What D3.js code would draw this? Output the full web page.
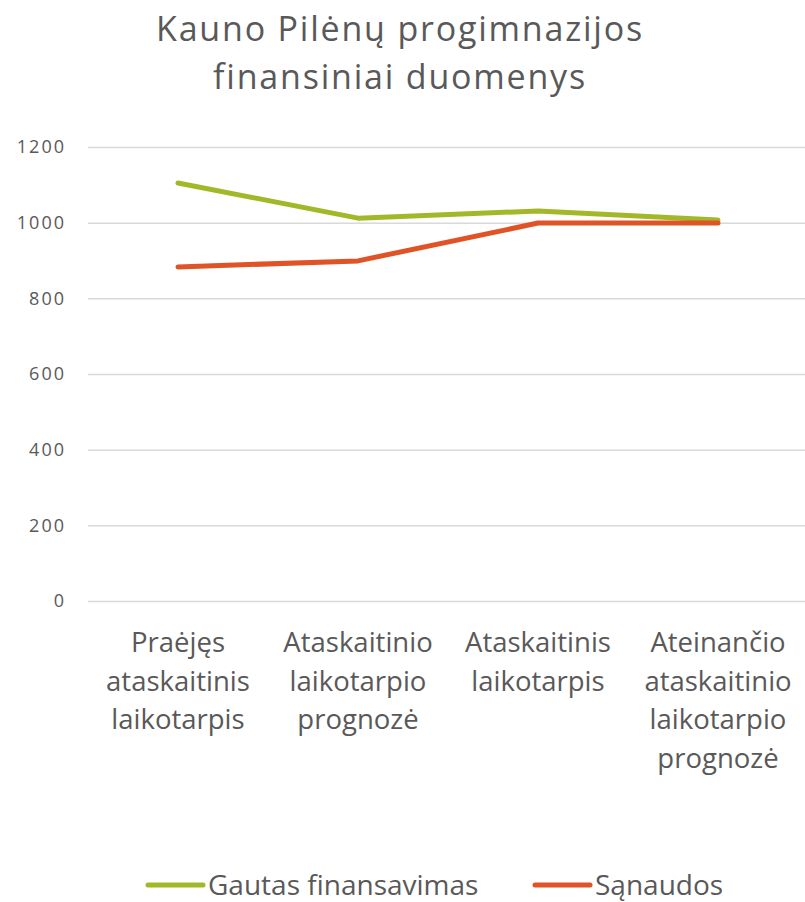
<!DOCTYPE html>
<html>
<head>
<meta charset="utf-8">
<script src="https://cdn.jsdelivr.net/npm/d3@7"></script>
<style>
  body { margin: 0; background: #fff; }
  svg { display: block; font-family: "Open Sans", Lato, sans-serif; }
</style>
</head>
<body>
<svg id="chart" width="805" height="902"></svg>
<script>
// chart data
const categories = ["p1", "p2", "p3", "p4"];
const categoryLabels = [
    ["Praėjęs", "ataskaitinis", "laikotarpis"],
    ["Ataskaitinio", "laikotarpio", "prognozė"],
    ["Ataskaitinis", "laikotarpis"],
    ["Ateinančio", "ataskaitinio", "laikotarpio", "prognozė"]
];
const gautas = [1105, 1012, 1031, 1007];
const sanaudos = [883, 899, 999, 999];
const yTicks = [0, 200, 400, 600, 800, 1000, 1200];
const titleLines = ["Kauno Pilėnų progimnazijos", "finansiniai duomenys"];
const seriesNames = ["Gautas finansavimas", "Sąnaudos"];

const svg = d3.select("#chart");
const textColor = "#595959";
const colors = ["#a3b829", "#e05326"];

// scales
const x = d3.scaleBand().domain(categories).range([88, 808]);
const y = d3.scaleLinear().domain([0, 1200]).range([601, 147]);

// title
svg.append("text")
    .attr("text-anchor", "middle")
    .attr("fill", textColor)
    .style("font-size", "34px")
    .style("letter-spacing", "1.8px")
    .selectAll("tspan")
    .data(titleLines)
    .enter().append("tspan")
    .attr("x", 400)
    .attr("y", (d, i) => 41 + i * 48)
    .text(d => d);

// gridlines + y axis labels
const yAxis = svg.append("g")
    .attr("transform", "translate(88,0)")
    .call(d3.axisLeft(y).tickValues(yTicks).tickFormat(d3.format("d")).tickSize(-717).tickPadding(22));
yAxis.select(".domain").remove();
yAxis.selectAll(".tick line").attr("stroke", "#d9d9d9").attr("stroke-width", 1.5);
yAxis.selectAll(".tick text")
    .attr("fill", textColor)
    .style("font-size", "18px")
    .style("font-family", "\"Open Sans\", sans-serif")
    .style("letter-spacing", "2px");

// category labels
const xLab = svg.append("g");
categories.forEach((c, i) => {
    xLab.append("text")
        .attr("text-anchor", "middle")
        .attr("fill", textColor)
        .style("font-size", "27.5px")
        .selectAll("tspan")
        .data(categoryLabels[i])
        .enter().append("tspan")
        .attr("x", x(c) + x.bandwidth() / 2)
        .attr("y", (d, j) => 652 + j * 38.5)
        .text(d => d);
});

// lines
const line = d3.line()
    .x((d, i) => x(categories[i]) + x.bandwidth() / 2)
    .y(d => y(d));

[gautas, sanaudos].forEach((vals, i) => {
    svg.append("path")
        .datum(vals)
        .attr("fill", "none")
        .attr("stroke", colors[i])
        .attr("stroke-width", 5)
        .attr("stroke-linecap", "round")
        .attr("stroke-linejoin", "round")
        .attr("d", line);
});

// legend
const legendX = [148, 535];
seriesNames.forEach((name, i) => {
    svg.append("line")
        .attr("x1", legendX[i]).attr("x2", legendX[i] + 55)
        .attr("y1", 885).attr("y2", 885)
        .attr("stroke", colors[i])
        .attr("stroke-width", 5)
        .attr("stroke-linecap", "round");
    svg.append("text")
        .attr("x", legendX[i] + 60)
        .attr("y", 895)
        .attr("fill", textColor)
        .style("font-size", "28px")
        .text(name);
});
</script>
</body>
</html>
